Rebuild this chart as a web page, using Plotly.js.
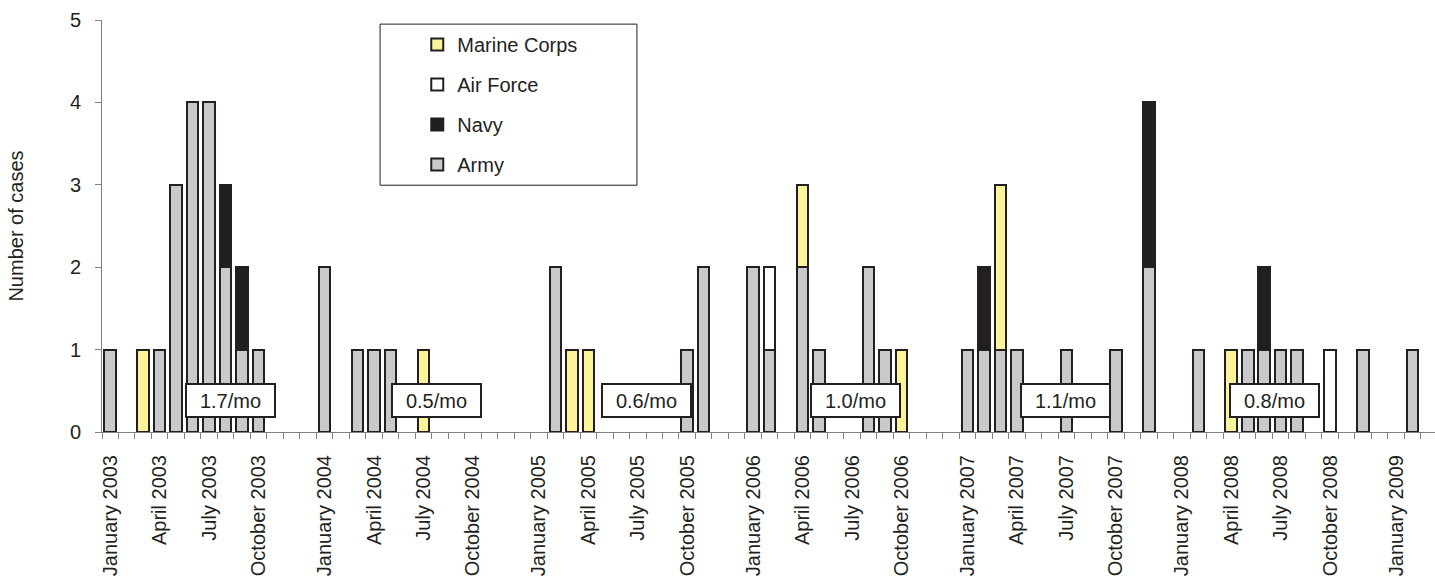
<!DOCTYPE html>
<html>
<head>
<meta charset="utf-8">
<script src="https://cdn.plot.ly/plotly-3.0.1.min.js"></script>
<style>html,body{margin:0;padding:0;background:#fff;}#chart{width:1435px;height:582px;}</style>
</head>
<body>
<div id="chart"></div>
<script>
// ---- data ----
const years = [2003, 2004, 2005, 2006, 2007, 2008, 2009];
const monthNames = ["January","February","March","April","May","June","July","August","September","October","November","December"];
const lastMonth2009 = "March";
const labeledMonths = ["January","April","July","October"];

const months = [
  "January 2003","March 2003","April 2003","May 2003","June 2003","July 2003","August 2003","September 2003","October 2003",
  "January 2004","March 2004","April 2004","May 2004","July 2004",
  "February 2005","March 2005","April 2005","October 2005","November 2005",
  "January 2006","February 2006","April 2006","May 2006","August 2006","September 2006","October 2006",
  "January 2007","February 2007","March 2007","April 2007","July 2007","October 2007","December 2007",
  "February 2008","April 2008","May 2008","June 2008","July 2008","August 2008","October 2008","December 2008",
  "February 2009"
];
const army = [
  1,0,1,3,4,4,2,1,1,
  2,1,1,1,0,
  2,0,0,1,2,
  2,1,2,1,2,1,0,
  1,1,1,1,1,1,2,
  1,0,1,1,1,1,0,1,
  1
];
const navy = [
  0,0,0,0,0,0,1,1,0,
  0,0,0,0,0,
  0,0,0,0,0,
  0,0,0,0,0,0,0,
  0,1,0,0,0,0,2,
  0,0,0,1,0,0,0,0,
  0
];
const airForce = [
  0,0,0,0,0,0,0,0,0,
  0,0,0,0,0,
  0,0,0,0,0,
  0,1,0,0,0,0,0,
  0,0,0,0,0,0,0,
  0,0,0,0,0,0,1,0,
  0
];
const marine = [
  0,1,0,0,0,0,0,0,0,
  0,0,0,0,1,
  0,1,1,0,0,
  0,0,1,0,0,0,1,
  0,0,2,0,0,0,0,
  0,1,0,0,0,0,0,0,
  0
];
const rateLabels = ["1.7/mo","0.5/mo","0.6/mo","1.0/mo","1.1/mo","0.8/mo"];

// ---- category axis (12 months + one spacer slot per year) ----
const categories = [];
let spacer = " ";
years.forEach(function(y){
  for (let m = 0; m < 12; m++) {
    categories.push(monthNames[m] + " " + y);
    if (y === 2009 && monthNames[m] === lastMonth2009) return;
  }
  categories.push(spacer);
  spacer += " ";
});
const tickText = categories.map(function(c){
  const parts = c.trim().split(" ");
  return (parts.length === 2 && labeledMonths.indexOf(parts[0]) >= 0) ? c : "";
});

// ---- style ----
const edge = "#231f20";
const FONT = "Liberation Sans, Arial, sans-serif";
const nz = function(a){ return a.map(function(v){ return v === 0 ? null : v; }); };
function barTrace(name, vals, color, group, rank){
  return {
    type: "bar", name: name, x: months, y: nz(vals), legendgroup: group, legendrank: rank,
    marker: {color: color, line: {color: edge, width: 2}},
    hoverinfo: "x+y+name"
  };
}
const traces = [
  barTrace("Army", army, "#c8c9cb", "g1", 4),
  barTrace("Navy", navy, "#231f20", "g2", 3),
  barTrace("Air Force", airForce, "#ffffff", "g3", 2),
  barTrace("Marine Corps", marine, "#fbf49b", "g4", 1)
];

const ratePos = [7.28, 19.82, 32.5, 45.19, 57.95, 70.65];
const annotations = rateLabels.map(function(t, i){
  return {
    x: ratePos[i], y: 0.38, xref: "x", yref: "y", text: t, showarrow: false,
    font: {family: FONT, size: 20, color: edge},
    bgcolor: "#ffffff", bordercolor: edge, borderwidth: 2, borderpad: 0,
    width: 87, height: 31, align: "center", valign: "middle"
  };
});

const layout = {
  width: 1435, height: 582,
  margin: {l: 102, r: 0, t: 20, b: 150, pad: 0},
  paper_bgcolor: "#ffffff", plot_bgcolor: "#ffffff",
  font: {family: FONT, size: 20, color: edge},
  barmode: "stack", bargap: 0.3,
  showlegend: true,
  legend: {
    x: 0.2365, xanchor: "left", y: 0.988, yanchor: "top",
    traceorder: "grouped", tracegroupgap: 11,
    bgcolor: "rgba(0,0,0,0)", borderwidth: 0,
    font: {family: FONT, size: 20, color: edge}
  },
  xaxis: {
    type: "category", categoryorder: "array", categoryarray: categories,
    range: [-0.5, 80.36], fixedrange: true,
    tickmode: "array", tickvals: categories, ticktext: tickText,
    tickson: "boundaries", ticks: "outside", ticklen: 6, tickwidth: 1, tickcolor: "#808080",
    tickangle: -90, ticklabelstandoff: 14,
    tickfont: {family: FONT, size: 20, color: edge},
    showline: true, linecolor: "#808080", linewidth: 1,
    showgrid: false, zeroline: false
  },
  yaxis: {
    range: [0, 5], dtick: 1, tick0: 0, fixedrange: true,
    ticks: "outside", ticklen: 6, tickwidth: 1, tickcolor: "#808080",
    ticklabelstandoff: 10,
    tickfont: {family: FONT, size: 20, color: edge},
    showline: true, linecolor: "#808080", linewidth: 1,
    showgrid: false, zeroline: false,
    title: {text: "Number of cases", standoff: 40,
      font: {family: FONT, size: 20, color: edge}}
  },
  shapes: [{
    type: "rect", xref: "paper", yref: "paper",
    x0: 0.2086, x1: 0.4013, y0: 0.599, y1: 0.990,
    line: {color: edge, width: 1}, fillcolor: "rgba(0,0,0,0)", layer: "below"
  }],
  annotations: annotations
};

Plotly.newPlot("chart", traces, layout, {displayModeBar: false, staticPlot: true});
</script>
</body>
</html>
